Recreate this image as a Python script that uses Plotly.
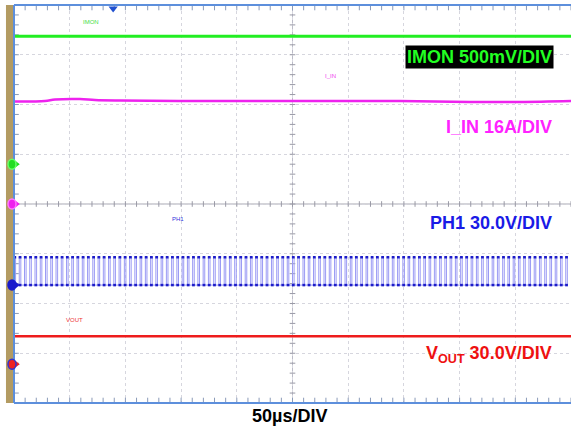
import plotly.graph_objects as go

# ---- data (x in microseconds, y in screen divisions; 50 us/div, 8 vertical divs) ----
imon_t = [0, 500]
imon_v = [3.37, 3.37]

iin_t = [0, 27.8, 36.8, 59.2, 72.7, 95.2, 167, 257, 346.5, 409, 454, 500]
iin_v = [2.06, 2.07, 2.10, 2.11, 2.09, 2.08, 2.07, 2.07, 2.07, 2.05, 2.05, 2.07]

vout_t = [0, 500]
vout_v = [-2.66, -2.66]

ph1_high = -1.07
ph1_low = -1.63
ph1_cycles = 106
ph1_duty = 0.3

# channel ground markers (div)
marker_levels = [0.80, 0.0, -1.63, -3.22]
marker_fill = ["#22dd22", "#ee22ee", "#1a1acc", "#ee2222"]
marker_edge = ["#66ff66", "#ff77ff", "#1a1acc", "#3333cc"]

trigger_t = 89.0

# ---- build PH1 switching waveform from its levels ----
T = 500.0 / ph1_cycles
ph_x, ph_y, top_x = [], [], []
for k in range(ph1_cycles):
    t0 = k * T
    t1 = t0 + ph1_duty * T
    ph_x += [t0, t0, t1, t1]
    ph_y += [ph1_low, ph1_high, ph1_high, ph1_low]
    top_x.append((t0 + t1) / 2)

fig = go.Figure()

# center crosshair tick marks
minor_t = [i * 10 for i in range(51)]
minor_v = [i * 0.2 - 4 for i in range(41)]
fig.add_trace(go.Scatter(x=minor_t, y=[0] * len(minor_t), mode="markers",
                         marker=dict(symbol="line-ns", size=4, line=dict(color="#9a9aa6", width=1)),
                         hoverinfo="skip", showlegend=False))
fig.add_trace(go.Scatter(x=[250] * len(minor_v), y=minor_v, mode="markers",
                         marker=dict(symbol="line-ew", size=4, line=dict(color="#9a9aa6", width=1)),
                         hoverinfo="skip", showlegend=False))
# border ticks
fig.add_trace(go.Scatter(x=minor_t, y=[3.95] * len(minor_t), mode="markers",
                         marker=dict(symbol="line-ns", size=4, line=dict(color="#8a9ab8", width=1)),
                         hoverinfo="skip", showlegend=False))
fig.add_trace(go.Scatter(x=minor_t, y=[-3.95] * len(minor_t), mode="markers",
                         marker=dict(symbol="line-ns", size=4, line=dict(color="#8a9ab8", width=1)),
                         hoverinfo="skip", showlegend=False))
fig.add_trace(go.Scatter(x=[1.8] * len(minor_v), y=minor_v, mode="markers",
                         marker=dict(symbol="line-ew", size=4, line=dict(color="#8a9ab8", width=1)),
                         hoverinfo="skip", showlegend=False))

# waveforms
fig.add_trace(go.Scatter(x=imon_t, y=imon_v, mode="lines",
                         line=dict(color="#22ee22", width=3), showlegend=False))
fig.add_trace(go.Scatter(x=iin_t, y=iin_v, mode="lines",
                         line=dict(color="#ee22ee", width=2.5, shape="spline"), showlegend=False))
fig.add_trace(go.Scatter(x=ph_x, y=ph_y, mode="lines",
                         line=dict(color="#9a9af4", width=1), showlegend=False))
fig.add_trace(go.Scatter(x=top_x + top_x, y=[ph1_high] * len(top_x) + [ph1_low] * len(top_x),
                         mode="markers",
                         marker=dict(symbol="line-ew", size=2, line=dict(color="#1c1cc8", width=2.5)),
                         showlegend=False))
fig.add_trace(go.Scatter(x=vout_t, y=vout_v, mode="lines",
                         line=dict(color="#ee1c1c", width=2.5), showlegend=False))

# channel marker arrows
fig.add_trace(go.Scatter(x=[2.9] * 4, y=marker_levels, mode="markers", cliponaxis=False,
                         marker=dict(symbol="triangle-right", size=5, color=marker_fill),
                         showlegend=False))
# trigger marker
fig.add_trace(go.Scatter(x=[trigger_t], y=[3.93], mode="markers", cliponaxis=False,
                         marker=dict(symbol="triangle-down", size=8, color="#2050d0"),
                         showlegend=False))

shapes = [
    dict(type="rect", xref="paper", yref="paper", x0=-0.0144, x1=-0.0018, y0=0, y1=1,
         fillcolor="#b39b62", line=dict(width=0), layer="below"),
    dict(type="line", xref="x", yref="paper", x0=250, x1=250, y0=0, y1=1,
         line=dict(color="#bcbcc8", width=1), layer="below"),
    dict(type="line", xref="paper", yref="y", x0=0, x1=1, y0=0, y1=0,
         line=dict(color="#a8a8b2", width=1), layer="below"),
    dict(type="line", xref="paper", yref="paper", x0=0, x1=1, y0=1, y1=1,
         line=dict(color="#5d8fdc", width=2)),
    dict(type="line", xref="paper", yref="paper", x0=0, x1=1, y0=0, y1=0,
         line=dict(color="#5d8fdc", width=2)),
    dict(type="line", xref="paper", yref="paper", x0=0, x1=0, y0=0, y1=1,
         line=dict(color="#5d8fdc", width=2)),
]
# channel marker circles (left of the grid)
for lvl, fc, ec in zip(marker_levels, marker_fill, marker_edge):
    shapes.append(dict(type="circle", xref="paper", yref="y",
                       x0=-0.0108, x1=0.0036, y0=lvl - 0.1, y1=lvl + 0.1,
                       fillcolor=fc, line=dict(color=ec, width=1.5), layer="above"))

big = dict(family="Liberation Sans, Arial, sans-serif", size=18)
small = dict(family="Liberation Sans, Arial, sans-serif", size=6)
annotations = [
    dict(text="<b>IMON 500mV/DIV</b>", x=0.9695, y=2.95, xref="paper", yref="y",
         showarrow=False, xanchor="right", yanchor="middle",
         font=dict(big, color="#22ff22"), bgcolor="#000000", borderpad=1),
    dict(text="<b>I_IN 16A/DIV</b>", x=0.9695, y=1.55, xref="paper", yref="y",
         showarrow=False, xanchor="right", yanchor="middle", font=dict(big, color="#ff22ff")),
    dict(text="<b>PH1 30.0V/DIV</b>", x=0.9695, y=-0.39, xref="paper", yref="y",
         showarrow=False, xanchor="right", yanchor="middle", font=dict(big, color="#1a1ae6")),
    dict(text="<b>V<sub>OUT</sub> 30.0V/DIV</b>", x=0.9695, y=-3.02, xref="paper", yref="y",
         showarrow=False, xanchor="right", yanchor="middle", font=dict(big, color="#ee1111")),
    dict(text="<b>50µs/DIV</b>", x=0.494, y=-0.033, xref="paper", yref="paper",
         showarrow=False, xanchor="center", yanchor="middle", font=dict(big, color="#000000")),
    dict(text="IMON", x=69, y=3.65, xref="x", yref="y", showarrow=False,
         font=dict(small, color="#44dd44")),
    dict(text="I_IN", x=284, y=2.58, xref="x", yref="y", showarrow=False,
         font=dict(small, color="#ee44ee")),
    dict(text="PH1", x=147, y=-0.30, xref="x", yref="y", showarrow=False,
         font=dict(small, color="#3333dd")),
    dict(text="VOUT", x=54, y=-2.33, xref="x", yref="y", showarrow=False,
         font=dict(small, color="#ee3333")),
]

fig.update_layout(
    width=571, height=431,
    margin=dict(l=14, r=0, t=5, b=28),
    paper_bgcolor="white", plot_bgcolor="white",
    xaxis=dict(range=[0, 500], dtick=50, showgrid=True, gridcolor="#d6d6de", griddash="dot",
               gridwidth=1, showticklabels=False, zeroline=False, showline=False, ticks=""),
    yaxis=dict(range=[-4, 4], dtick=1, showgrid=True, gridcolor="#d6d6de", griddash="dot",
               gridwidth=1, showticklabels=False, zeroline=False, showline=False, ticks=""),
    shapes=shapes, annotations=annotations, showlegend=False,
)

fig.write_html("out.html", config={"displayModeBar": False},
               post_script="document.body.style.margin='0';")
